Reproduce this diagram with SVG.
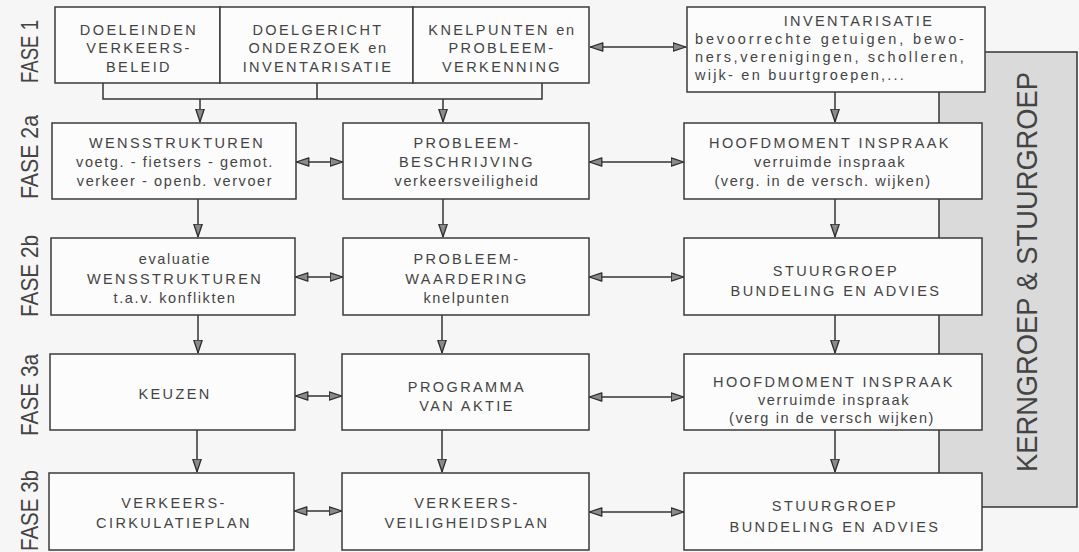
<svg xmlns="http://www.w3.org/2000/svg" width="1079" height="552" viewBox="0 0 1079 552">
<defs>
<style>
.bx{fill:#fcfcfc;stroke:#3a3a3a;stroke-width:1.5}
.t{font-family:"Liberation Sans",Arial,Helvetica,sans-serif;font-size:14.5px;fill:#444;text-anchor:middle;letter-spacing:2.4px}
.lc{letter-spacing:1.6px}
.ls{text-anchor:start;letter-spacing:1.1px}
.ph{font-family:"Liberation Sans",Arial,Helvetica,sans-serif;font-size:24px;fill:#444}
.kg{font-family:"Liberation Sans",Arial,Helvetica,sans-serif;font-size:30px;fill:#444;text-anchor:middle}
.ln{stroke:#333;stroke-width:1.5;fill:none}
.ar{stroke:#333;stroke-width:1.5;fill:none;marker-end:url(#ah)}
.da{stroke:#333;stroke-width:1.5;fill:none;marker-start:url(#ah);marker-end:url(#ah)}
</style>
<marker id="ah" viewBox="0 0 14 10" refX="13.5" refY="5" markerWidth="14" markerHeight="10" markerUnits="userSpaceOnUse" orient="auto-start-reverse">
<path d="M0.7,0.8 L13.3,5 L0.7,9.2 Z" fill="#8a8a8a" stroke="#2e2e2e" stroke-width="1.3" stroke-linejoin="round"/>
</marker>
</defs>
<rect x="0" y="0" width="1079" height="552" fill="#f6f6f6"/>

<g id="panel">
<rect x="939" y="52" width="138" height="455" fill="#dadada" stroke="#333" stroke-width="1.5"/>
<text class="kg" transform="translate(1037,272) rotate(-90)" textLength="400" lengthAdjust="spacingAndGlyphs">KERNGROEP &amp; STUURGROEP</text>
</g>

<g id="phases">
<text class="ph" transform="translate(38,83) rotate(-90)" textLength="63" lengthAdjust="spacingAndGlyphs">FASE 1</text>
<text class="ph" transform="translate(38,199) rotate(-90)" textLength="84" lengthAdjust="spacingAndGlyphs">FASE 2a</text>
<text class="ph" transform="translate(38,317) rotate(-90)" textLength="82" lengthAdjust="spacingAndGlyphs">FASE 2b</text>
<text class="ph" transform="translate(38,436) rotate(-90)" textLength="82" lengthAdjust="spacingAndGlyphs">FASE 3a</text>
<text class="ph" transform="translate(38,551) rotate(-90)" textLength="81" lengthAdjust="spacingAndGlyphs">FASE 3b</text>
</g>

<g id="connectors">
<path class="ln" d="M103,83 V99 H542 V83 M317,83 V99"/>
<path class="ar" d="M200,99 V122"/>
<path class="ar" d="M443,99 V122"/>
<path class="da" d="M590,47 H686"/>
<path class="ar" d="M835,92 V122"/>
<path class="ar" d="M198,199 V237"/>
<path class="ar" d="M443,199 V237"/>
<path class="ar" d="M835,199 V237"/>
<path class="ar" d="M198,315 V353"/>
<path class="ar" d="M442,315 V353"/>
<path class="ar" d="M835,315 V353"/>
<path class="ar" d="M197,430 V472"/>
<path class="ar" d="M442,430 V472"/>
<path class="ar" d="M835,430 V472"/>
<path class="da" d="M296,162 H343"/>
<path class="da" d="M589,162 H684"/>
<path class="da" d="M295,277 H343"/>
<path class="da" d="M589,277 H684"/>
<path class="da" d="M295,396 H342"/>
<path class="da" d="M589,397 H684"/>
<path class="da" d="M294,511 H342"/>
<path class="da" d="M589,512 H684"/>
</g>

<g id="doeleinden">
<rect class="bx" x="55" y="7" width="165" height="76"/>
<text class="t" x="139" y="35">DOELEINDEN</text>
<text class="t" x="139" y="53">VERKEERS-</text>
<text class="t" x="139" y="72">BELEID</text>
</g>
<g id="doelgericht">
<rect class="bx" x="220" y="7" width="193" height="76"/>
<text class="t" x="318" y="35">DOELGERICHT</text>
<text class="t" x="318" y="53">ONDERZOEK <tspan class="lc">en</tspan></text>
<text class="t" x="318" y="72">INVENTARISATIE</text>
</g>
<g id="knelpunten">
<rect class="bx" x="413" y="7" width="176" height="76"/>
<text class="t" x="502" y="35">KNELPUNTEN <tspan class="lc">en</tspan></text>
<text class="t" x="502" y="53">PROBLEEM-</text>
<text class="t" x="502" y="72">VERKENNING</text>
</g>
<g id="inventarisatie">
<rect class="bx" x="687" y="7" width="298" height="85"/>
<text class="t" x="859" y="26">INVENTARISATIE</text>
<text class="t ls" x="695" y="44" textLength="270" lengthAdjust="spacing">bevoorrechte getuigen, bewo-</text>
<text class="t ls" x="695" y="62" textLength="270" lengthAdjust="spacing">ners,verenigingen, scholleren,</text>
<text class="t ls" x="695" y="80" textLength="210" lengthAdjust="spacing">wijk- en buurtgroepen,...</text>
</g>

<g id="wensstrukturen">
<rect class="bx" x="52" y="123" width="244" height="76"/>
<text class="t" x="177" y="148">WENSSTRUKTUREN</text>
<text class="t lc" x="175" y="167">voetg. - fietsers - gemot.</text>
<text class="t lc" x="175" y="186">verkeer - openb. vervoer</text>
</g>
<g id="probleembeschrijving">
<rect class="bx" x="343" y="123" width="246" height="76"/>
<text class="t" x="467" y="148">PROBLEEM-</text>
<text class="t" x="467" y="167">BESCHRIJVING</text>
<text class="t lc" x="467" y="186">verkeersveiligheid</text>
</g>
<g id="inspraak1">
<rect class="bx" x="684" y="123" width="298" height="76"/>
<text class="t" x="830" y="148">HOOFDMOMENT INSPRAAK</text>
<text class="t lc" x="830" y="167">verruimde inspraak</text>
<text class="t lc" x="823" y="186">(verg. in de versch. wijken)</text>
</g>

<g id="evaluatie">
<rect class="bx" x="51" y="238" width="244" height="77"/>
<text class="t lc" x="175" y="264">evaluatie</text>
<text class="t" x="175" y="284">WENSSTRUKTUREN</text>
<text class="t lc" x="175" y="303">t.a.v. konflikten</text>
</g>
<g id="probleemwaardering">
<rect class="bx" x="343" y="238" width="246" height="77"/>
<text class="t" x="467" y="264">PROBLEEM-</text>
<text class="t" x="467" y="284">WAARDERING</text>
<text class="t lc" x="467" y="303">knelpunten</text>
</g>
<g id="stuurgroep1">
<rect class="bx" x="684" y="238" width="298" height="77"/>
<text class="t" x="836" y="276">STUURGROEP</text>
<text class="t" x="836" y="296">BUNDELING EN  ADVIES</text>
</g>

<g id="keuzen">
<rect class="bx" x="50" y="354" width="245" height="76"/>
<text class="t" x="175" y="399">KEUZEN</text>
</g>
<g id="programma">
<rect class="bx" x="342" y="354" width="247" height="76"/>
<text class="t" x="467" y="392">PROGRAMMA</text>
<text class="t" x="467" y="411">VAN AKTIE</text>
</g>
<g id="inspraak2">
<rect class="bx" x="684" y="354" width="298" height="76"/>
<text class="t" x="834" y="387">HOOFDMOMENT INSPRAAK</text>
<text class="t lc" x="834" y="405">verruimde inspraak</text>
<text class="t lc" x="832" y="423">(verg in de versch wijken)</text>
</g>

<g id="verkeerscirkulatieplan">
<rect class="bx" x="49" y="473" width="245" height="77"/>
<text class="t" x="174" y="508">VERKEERS-</text>
<text class="t" x="174" y="528">CIRKULATIEPLAN</text>
</g>
<g id="verkeersveiligheidsplan">
<rect class="bx" x="342" y="473" width="247" height="77"/>
<text class="t" x="467" y="508">VERKEERS-</text>
<text class="t" x="467" y="528">VEILIGHEIDSPLAN</text>
</g>
<g id="stuurgroep2">
<rect class="bx" x="684" y="473" width="298" height="77"/>
<text class="t" x="835" y="511">STUURGROEP</text>
<text class="t" x="835" y="532">BUNDELING EN ADVIES</text>
</g>
</svg>
